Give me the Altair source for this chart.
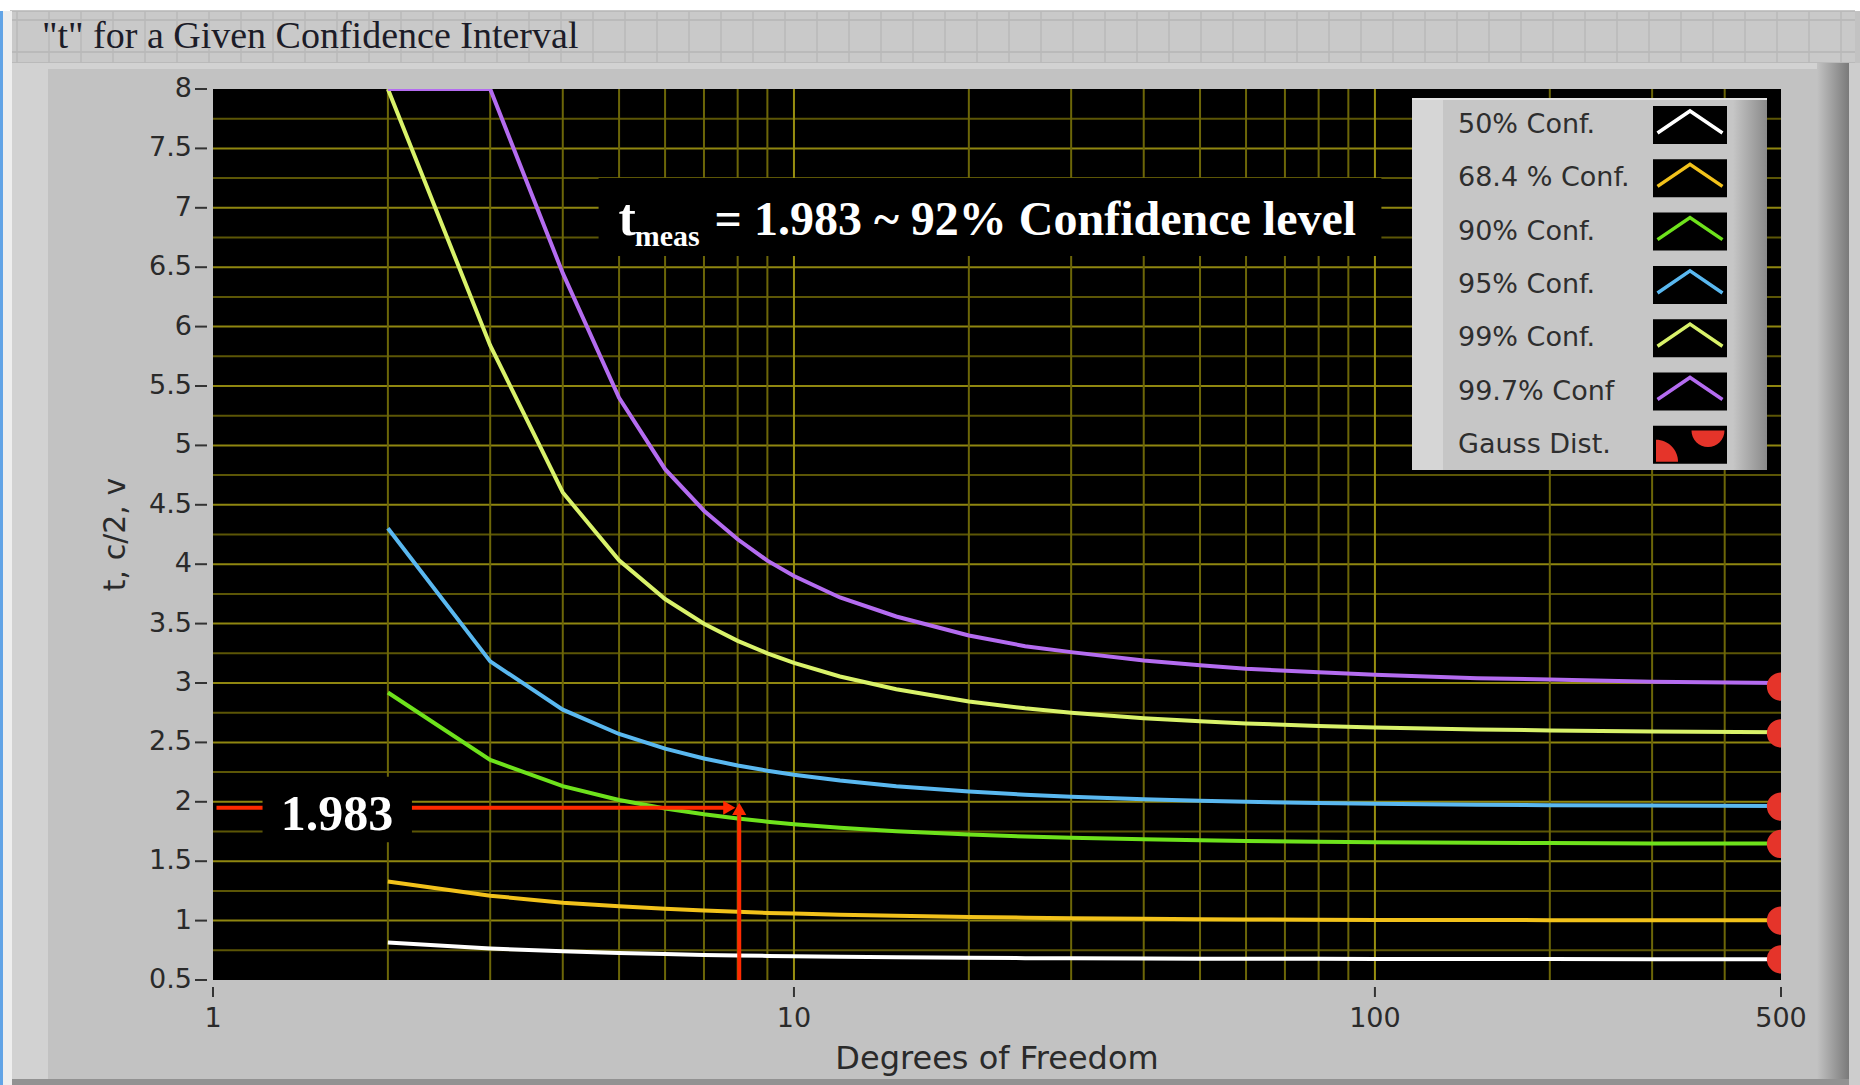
import altair as alt
import pandas as pd

W, H = 1568, 891

# ---------------- data ----------------
dof = [2, 3, 4, 5, 6, 7, 8, 9, 10, 12, 15, 20, 25, 30, 40, 50, 60, 80, 100, 150, 200, 300, 500]
series_names = ["50% Conf.", "68.4 % Conf.", "90% Conf.", "95% Conf.", "99% Conf.", "99.7% Conf"]
series_colors = ["#ffffff", "#f2c21b", "#6ee21c", "#5ab8f0", "#d9f26a", "#b46cf0"]
t50 = [0.816, 0.765, 0.741, 0.727, 0.718, 0.711, 0.706, 0.703, 0.700, 0.695, 0.691, 0.687, 0.684, 0.683, 0.681, 0.679, 0.679, 0.678, 0.677, 0.676, 0.676, 0.675, 0.675]
t684 = [1.33, 1.21, 1.15, 1.12, 1.10, 1.085, 1.075, 1.065, 1.06, 1.05, 1.04, 1.03, 1.025, 1.02, 1.015, 1.012, 1.01, 1.008, 1.006, 1.005, 1.004, 1.003, 1.003]
t90 = [2.920, 2.353, 2.132, 2.015, 1.943, 1.895, 1.860, 1.833, 1.812, 1.782, 1.753, 1.725, 1.708, 1.697, 1.684, 1.676, 1.671, 1.664, 1.660, 1.655, 1.653, 1.650, 1.648]
t95 = [4.303, 3.182, 2.776, 2.571, 2.447, 2.365, 2.306, 2.262, 2.228, 2.179, 2.131, 2.086, 2.060, 2.042, 2.021, 2.009, 2.000, 1.990, 1.984, 1.976, 1.972, 1.968, 1.965]
t99 = [8.0, 5.841, 4.604, 4.032, 3.707, 3.499, 3.355, 3.250, 3.169, 3.055, 2.947, 2.845, 2.787, 2.750, 2.704, 2.678, 2.660, 2.639, 2.626, 2.609, 2.601, 2.592, 2.586]
t997 = [8.0, 8.0, 6.45, 5.40, 4.80, 4.45, 4.21, 4.03, 3.90, 3.72, 3.56, 3.40, 3.31, 3.26, 3.19, 3.15, 3.12, 3.09, 3.07, 3.04, 3.03, 3.01, 3.00]
series_values = [t50, t684, t90, t95, t99, t997]

gauss_name = "Gauss Dist."
gauss_color = "#e5342a"
gauss_df = [500, 500, 500, 500, 500, 500]
gauss_t = [0.674, 1.0, 1.645, 1.96, 2.576, 2.97]

x_ticks = [1, 10, 100, 500]
y_ticks = [0.5, 1, 1.5, 2, 2.5, 3, 3.5, 4, 4.5, 5, 5.5, 6, 6.5, 7, 7.5, 8]
x_grid_minor = [2, 3, 4, 5, 6, 7, 8, 9, 20, 30, 40, 50, 60, 70, 80, 90, 200, 300, 400]
x_grid_major = [10, 100]
y_grid_major = [1.0, 1.5, 2.0, 2.5, 3.0, 3.5, 4.0, 4.5, 5.0, 5.5, 6.0, 6.5, 7.0, 7.5]
y_grid_minor = [0.75, 1.25, 1.75, 2.25, 2.75, 3.25, 3.75, 4.25, 4.75, 5.25, 5.75, 6.25, 6.75, 7.25, 7.75]
x_title = "Degrees of Freedom"
y_title = "t, c/2, v"

# annotation (red arrows and boxes)
meas_level = [1.95]
meas_dof = [8.05]
hline_dof = [1.014, 7.6]
arrow_right = [7.74, 1.95]
arrow_up = [8.05, 1.94]
box_1983 = [1.217, 2.20, 1.66, 2.21]
text_1983 = ["1.983", 1.635, 1.763]
box_meas = [4.61, 102.6, 6.594, 7.25]
text_t = ["t", 4.99, 6.771]
text_sub = ["meas", 5.32, 6.678]
text_main = ["= 1.983 ~ 92% Confidence level", 7.30, 6.771]

title_text = '"t" for a Given Confidence Interval'

# ---------------- tables ----------------
rows = []
for name, vals in zip(series_names, series_values):
    for d, t in zip(dof, vals):
        rows.append({"df": d, "t": t, "series": name})
curves = pd.DataFrame(rows)
gauss = pd.DataFrame({"df": gauss_df, "t": gauss_t})
one = pd.DataFrame({"k": [0]})

xs = alt.Scale(type="log", domain=[1, 500], nice=False)
ys = alt.Scale(domain=[0.5, 8], nice=False, zero=False)

def prect(x, x2, y, y2, fill):
    return alt.Chart(one).mark_rect(fill=fill).encode(
        x=alt.value(x), x2=alt.value(x2), y=alt.value(y), y2=alt.value(y2))

def grad(c1, c2):
    return alt.Gradient(gradient="linear", x1=0, x2=1, y1=0, y2=0,
                        stops=[alt.GradientStop(color=c1, offset=0),
                               alt.GradientStop(color=c2, offset=1)])

layers = []

# ---- frame decorations (pixel positions relative to plot origin 213,89) ----
layers.append(prect(-213, 1647, -89, -78, "#ffffff"))
layers.append(prect(-203, 1642, -78, -26, "#c9c9c9"))
for yy in [-78, -69, -37, -26]:
    layers.append(alt.Chart(one).mark_rule(color="#b4b4b4", strokeWidth=1.5).encode(
        x=alt.value(-203), x2=alt.value(1642), y=alt.value(yy)))
for k in range(58):
    layers.append(alt.Chart(one).mark_rule(color="#b8b8b8", strokeWidth=1.5).encode(
        x=alt.value(-196 + 32 * k), y=alt.value(-78), y2=alt.value(-26)))
layers.append(prect(-203, 1642, -26, -20, "#d2d2d2"))
layers.append(prect(-213, -210, -78, 996, "#62a4e6"))
layers.append(prect(-210, -201, -78, 996, "#eeeeee"))
layers.append(prect(-201, -165, -26, 991, "#d2d2d2"))
layers.append(alt.Chart(one).mark_rect(fill=grad("#c2c2c2", "#7a7a7a")).encode(
    x=alt.value(1604), x2=alt.value(1636), y=alt.value(-26), y2=alt.value(991)))
layers.append(prect(1636, 1647, -26, 996, "#cdcdcd"))
layers.append(prect(-201, 1636, 990, 996, "#929292"))

# ---- plot-area grid ----
layers.append(alt.Chart(pd.DataFrame({"g": y_grid_minor})).mark_rule(color="#5c5606", strokeWidth=2).encode(
    y=alt.Y("g:Q", scale=ys, axis=None), x=alt.value(0), x2=alt.value(W)))
layers.append(alt.Chart(pd.DataFrame({"g": y_grid_major})).mark_rule(color="#8f8610", strokeWidth=2).encode(
    y=alt.Y("g:Q", scale=ys, axis=None), x=alt.value(0), x2=alt.value(W)))
layers.append(alt.Chart(pd.DataFrame({"g": x_grid_minor})).mark_rule(color="#6c6608", strokeWidth=2).encode(
    x=alt.X("g:Q", scale=xs, axis=None), y=alt.value(0), y2=alt.value(H)))
layers.append(alt.Chart(pd.DataFrame({"g": x_grid_major})).mark_rule(color="#978e10", strokeWidth=2).encode(
    x=alt.X("g:Q", scale=xs, axis=None), y=alt.value(0), y2=alt.value(H)))

# ---- axes drawn through the scales ----
axis_font = "DejaVu Sans"
axis_col = "#2a2a2a"
ytk = pd.DataFrame({"v": y_ticks})
xtk = pd.DataFrame({"v": x_ticks})
layers.append(alt.Chart(ytk).mark_rule(color="#333333", strokeWidth=2).encode(
    y=alt.Y("v:Q", scale=ys, axis=None), x=alt.value(-18), x2=alt.value(-6)))
layers.append(alt.Chart(ytk).mark_text(font=axis_font, fontSize=27, color=axis_col,
                                       align="right", baseline="middle").encode(
    y=alt.Y("v:Q", scale=ys, axis=None), x=alt.value(-21), text=alt.Text("v:Q", format="~g")))
layers.append(alt.Chart(xtk).mark_rule(color="#333333", strokeWidth=2).encode(
    x=alt.X("v:Q", scale=xs, axis=None), y=alt.value(898), y2=alt.value(908)))
layers.append(alt.Chart(xtk).mark_text(font=axis_font, fontSize=27, color=axis_col,
                                       align="center", baseline="middle").encode(
    x=alt.X("v:Q", scale=xs, axis=None), y=alt.value(930), text=alt.Text("v:Q", format="d")))
layers.append(alt.Chart(pd.DataFrame({"s": [x_title]})).mark_text(
    font=axis_font, fontSize=32, color=axis_col, align="center", baseline="middle").encode(
    x=alt.value(W / 2), y=alt.value(970), text="s:N"))
layers.append(alt.Chart(pd.DataFrame({"s": [y_title]})).mark_text(
    font=axis_font, fontSize=30, color=axis_col, align="center", baseline="middle", angle=270).encode(
    x=alt.value(-97), y=alt.value(H / 2), text="s:N"))

# ---- curves ----
layers.append(
    alt.Chart(curves).mark_line(clip=True, strokeWidth=4).encode(
        x=alt.X("df:Q", scale=xs, axis=None),
        y=alt.Y("t:Q", scale=ys, axis=None),
        color=alt.Color("series:N", scale=alt.Scale(domain=series_names, range=series_colors), legend=None),
    )
)

# ---- Gauss points ----
layers.append(alt.Chart(gauss).mark_circle(clip=True, size=800, opacity=1, color=gauss_color).encode(
    x=alt.X("df:Q", scale=xs, axis=None), y=alt.Y("t:Q", scale=ys, axis=None)))

# ---- red annotation ----
red = "#ff2a00"
layers.append(alt.Chart(pd.DataFrame({"x1": [hline_dof[0]], "x2": [hline_dof[1]], "y": meas_level}))
              .mark_rule(color=red, strokeWidth=4).encode(
    x=alt.X("x1:Q", scale=xs, axis=None), x2="x2:Q", y=alt.Y("y:Q", scale=ys, axis=None)))
layers.append(alt.Chart(pd.DataFrame({"x": meas_dof, "y1": [0.5], "y2": [arrow_up[1]]}))
              .mark_rule(color=red, strokeWidth=4).encode(
    x=alt.X("x:Q", scale=xs, axis=None), y=alt.Y("y1:Q", scale=ys, axis=None), y2="y2:Q"))
layers.append(alt.Chart(pd.DataFrame({"x": [arrow_right[0]], "y": [arrow_right[1]]}))
              .mark_point(shape="triangle-right", filled=True, size=200, opacity=1, color=red).encode(
    x=alt.X("x:Q", scale=xs, axis=None), y=alt.Y("y:Q", scale=ys, axis=None)))
layers.append(alt.Chart(pd.DataFrame({"x": [arrow_up[0]], "y": [arrow_up[1]]}))
              .mark_point(shape="triangle-up", filled=True, size=200, opacity=1, color=red).encode(
    x=alt.X("x:Q", scale=xs, axis=None), y=alt.Y("y:Q", scale=ys, axis=None)))

for box in [box_1983, box_meas]:
    layers.append(alt.Chart(pd.DataFrame({"x1": [box[0]], "x2": [box[1]], "y1": [box[2]], "y2": [box[3]]}))
                  .mark_rect(color="#000000").encode(
        x=alt.X("x1:Q", scale=xs, axis=None), x2="x2:Q",
        y=alt.Y("y1:Q", scale=ys, axis=None), y2="y2:Q"))

for (txt, tx, ty), size, align in [(text_1983, 50, "center"), (text_t, 52, "left"),
                                   (text_sub, 30, "left"), (text_main, 48, "left")]:
    layers.append(alt.Chart(pd.DataFrame({"x": [tx], "y": [ty], "s": [txt]}))
                  .mark_text(font="Liberation Serif", fontWeight="bold", fontSize=size,
                             color="#ffffff", align=align, baseline="alphabetic").encode(
        x=alt.X("x:Q", scale=xs, axis=None), y=alt.Y("y:Q", scale=ys, axis=None), text="s:N"))

# ---- legend (custom, inside the plot) ----
layers.append(prect(1199, 1554, 9, 381, "#c6c6c6"))
layers.append(prect(1199, 1230, 9, 381, "#d6d6d6"))
layers.append(alt.Chart(one).mark_rect(fill=grad("#c6c6c6", "#8a8a8a")).encode(
    x=alt.value(1520), x2=alt.value(1554), y=alt.value(9), y2=alt.value(381)))
layers.append(alt.Chart(one).mark_rule(color="#e2e2e2", strokeWidth=2).encode(
    x=alt.value(1199), x2=alt.value(1554), y=alt.value(10)))

chevron = "M -1 0.34 L 0 -0.34 L 1 0.34"
legend_names = series_names + [gauss_name]
legend_colors = series_colors + [gauss_color]
for i, (lab, col) in enumerate(zip(legend_names, legend_colors)):
    cy = 36 + i * 53.3
    layers.append(alt.Chart(pd.DataFrame({"s": [lab]})).mark_text(
        font=axis_font, fontSize=27, color="#2e2e2e", align="left", baseline="middle").encode(
        x=alt.value(1245), y=alt.value(cy), text="s:N"))
    layers.append(prect(1440, 1514, cy - 19, cy + 19, "#000000"))
    if i < len(series_names):
        layers.append(alt.Chart(one).mark_point(shape=chevron, filled=False, size=4225,
                                                strokeWidth=3.5, opacity=1, color=col).encode(
            x=alt.value(1477), y=alt.value(cy - 3)))
    else:
        layers.append(alt.Chart(one).mark_point(shape="M -1 1 L -1 -1 A 2 2 0 0 1 1 1 Z", filled=True,
                                                size=484, opacity=1, color=col).encode(
            x=alt.value(1454), y=alt.value(cy + 6)))
        layers.append(alt.Chart(one).mark_point(shape="M -1 -0.5 L 1 -0.5 A 1 1 0 0 1 -1 -0.5 Z",
                                                filled=True, size=1089, opacity=1, color=col).encode(
            x=alt.value(1495), y=alt.value(cy - 6)))

# ---- title ----
layers.append(alt.Chart(pd.DataFrame({"s": [title_text]})).mark_text(
    font="Liberation Serif", fontSize=38, color="#1c1c28", align="left", baseline="middle").encode(
    x=alt.value(-171), y=alt.value(-52), text="s:N"))

chart = alt.layer(*layers).properties(
    width=W, height=H,
    autosize=alt.AutoSizeParams(type="none"),
    padding={"left": 213, "top": 89, "right": 79, "bottom": 105},
    background="#c2c2c2",
).configure_view(fill="#000000", stroke=None)

chart.save("out.html", embed_options={"renderer": "svg", "actions": False})
